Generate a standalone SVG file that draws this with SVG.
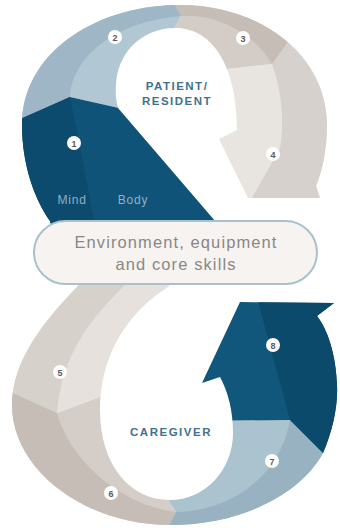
<svg xmlns="http://www.w3.org/2000/svg" width="340" height="528" viewBox="0 0 340 528">
<style>
.badge{fill:#ffffff}
.num{font-family:"Liberation Sans",Arial,sans-serif;font-size:9px;font-weight:bold;fill:#5a5a5a;text-anchor:middle}
.title{font-family:"Liberation Sans",Arial,sans-serif;font-size:11.5px;font-weight:bold;fill:#42718f;text-anchor:middle;letter-spacing:1.5px}
.sub{font-family:"Liberation Sans",Arial,sans-serif;font-size:12px;fill:#8fb0c3;text-anchor:middle;letter-spacing:0.8px}
.env{font-family:"Liberation Sans",Arial,sans-serif;font-size:16.5px;fill:#8a8886;text-anchor:middle;letter-spacing:1.1px}
</style>
<defs>
<clipPath id="topClip">
<path d="M58,250 L50,221 C35,200 22,165 22,125 C22,55 92,7 175,5 C260,3 327,55 327,125 C327,150 322,172 316,186 L320,198 L248,198 L219,139 L237,130 C237,70 215,28 175,28 C140,28 117,55 116,85 C115,97 117,103 118,108 L240,250 Z"/>
</clipPath>
<clipPath id="botClip">
<path d="M105,252 L77,287 C45,320 12,360 12,405 C12,470 85,525 170,525 C240,525 300,495 323,453 C333,430 338,405 337,385 C336,355 328,330 317,316 L334,303 L240,302 L202,383 L220,377 C228,392 233,410 233,433 C233,470 205,500 170,500 C130,500 100,465 100,410 C100,355 128,312 168,287 L195,252 Z"/>
</clipPath>
</defs>
<rect width="340" height="528" fill="#ffffff"/>

<g clip-path="url(#botClip)">
<g id="seg5">
<polygon points="0,240 200,240 140,382 57,413 0,387" fill="#e6e1dc"/>
<path d="M0,240 L130,240 L125,285 C95,315 62,350 57,413 L0,387 Z" fill="#d7d1cc"/>
</g>
<g id="seg6">
<polygon points="0,387 57,413 140,382 165,470 168,500 176,512 168,528 0,528" fill="#d5cdc7"/>
<path d="M0,387 L57,413 C70,460 120,505 176,512 L168,528 L0,528 Z" fill="#c6bdb7"/>
</g>
<g id="seg7">
<polygon points="165,470 195,421 290,420 345,475 340,528 168,528 176,512 168,500" fill="#abc2cf"/>
<path d="M176,512 C225,512 280,480 290,420 L345,475 L340,528 L168,528 Z" fill="#99b2c1"/>
</g>
<g id="seg8">
<polygon points="195,421 290,420 345,475 345,290 195,290" fill="#11567b"/>
<path d="M255,290 L290,420 L345,475 L345,290 Z" fill="#0c4a6b"/>
</g>
</g>

<g clip-path="url(#topClip)">
<g id="seg4">
<polygon points="340,20 288,42 272,64 200,72 205,200 340,200" fill="#e8e4e0"/>
<path d="M272,64 C283,95 284,125 280,148 L252,198 L340,200 L340,20 L288,42 Z" fill="#d6d1cc"/>
</g>
<g id="seg3">
<polygon points="172,0 340,0 340,20 288,42 272,64 200,72 168,40 181,16" fill="#d4ccc6"/>
<path d="M181,16 C220,14 255,35 272,64 L288,42 L340,20 L340,0 L172,0 Z" fill="#c6bdb6"/>
</g>
<g id="seg2">
<polygon points="0,0 172,0 181,16 168,40 150,115 70,97 0,128" fill="#b1c7d3"/>
<path d="M0,128 L70,97 C72,60 110,22 181,16 L172,0 L0,0 Z" fill="#9eb6c5"/>
</g>
<g id="seg1">
<polygon points="0,128 70,97 150,115 250,250 0,260" fill="#105378"/>
<polygon points="0,128 70,97 100,250 0,260" fill="#0c4b6d"/>
</g>
</g>

<g id="badges">
<circle class="badge" cx="74" cy="143" r="7"/><text class="num" x="74" y="146.5">1</text>
<circle class="badge" cx="115" cy="37" r="7"/><text class="num" x="115" y="40.5">2</text>
<circle class="badge" cx="243" cy="38" r="7"/><text class="num" x="243" y="41.5">3</text>
<circle class="badge" cx="273" cy="154" r="7"/><text class="num" x="273" y="157.5">4</text>
<circle class="badge" cx="60" cy="372" r="7"/><text class="num" x="60" y="375.5">5</text>
<circle class="badge" cx="111" cy="493" r="7"/><text class="num" x="111" y="496.5">6</text>
<circle class="badge" cx="272" cy="461" r="7"/><text class="num" x="272" y="464.5">7</text>
<circle class="badge" cx="273" cy="345" r="7"/><text class="num" x="273" y="348.5">8</text>
</g>

<g id="labels">
<text class="title" x="177" y="90">PATIENT/</text>
<text class="title" x="177" y="105">RESIDENT</text>
<text class="title" x="171" y="436">CAREGIVER</text>
<text class="sub" x="72" y="204">Mind</text>
<text class="sub" x="133" y="204">Body</text>
</g>

<g id="pill">
<rect x="34" y="221" width="283" height="63" rx="31.5" fill="#f6f3f0" stroke="#a9c0cd" stroke-width="2"/>
<text class="env" x="176" y="248">Environment, equipment</text>
<text class="env" x="176" y="270">and core skills</text>
</g>
</svg>
